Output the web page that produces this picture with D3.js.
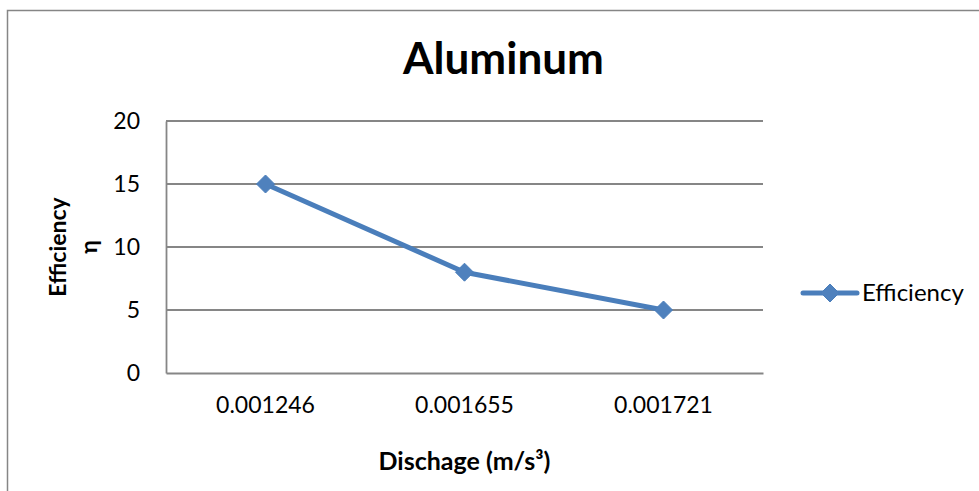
<!DOCTYPE html>
<html><head><meta charset="utf-8">
<script src="https://cdn.jsdelivr.net/npm/d3@7"></script>
<style>
html,body{margin:0;padding:0;background:#fff;}
svg{display:block;font-family:Lato, "Open Sans", sans-serif;}
</style></head>
<body>
<script>
const categories = ["0.001246", "0.001655", "0.001721"];
const efficiency = [15, 8, 5];
const yTicks = [0, 5, 10, 15, 20];
const seriesName = "Efficiency";
const chartTitle = "Aluminum";
const xTitle = "Dischage (m/s³)";
const yTitleLines = ["Efficiency", "η"];

const W = 979, H = 491;
const plot = {left: 166, right: 763, top: 121, bottom: 373};
const gridColor = "#868686";
const lineColor = "#4A7EBB";
const markerColor = "#4F81BD";

const svg = d3.select("body").append("svg").attr("width", W).attr("height", H);

// chart border
svg.append("rect").attr("x", 7.5).attr("y", 10.5).attr("width", W + 20).attr("height", H + 20)
  .attr("fill", "none").attr("stroke", gridColor).attr("stroke-width", 1.5);

const x = d3.scaleBand().domain(categories).range([plot.left, plot.right]).padding(0);
const y = d3.scaleLinear().domain([0, 20]).range([plot.bottom, plot.top]);

// gridlines
svg.append("g").selectAll("line").data(yTicks.filter(d => d > 0)).join("line")
  .attr("x1", plot.left).attr("x2", plot.right)
  .attr("y1", d => y(d)).attr("y2", d => y(d))
  .attr("stroke", gridColor).attr("stroke-width", 1.8);

// y axis
const yAxis = svg.append("g").attr("transform", `translate(${plot.left},0)`)
  .call(d3.axisLeft(y).tickValues(yTicks).tickSize(0).tickPadding(26));
yAxis.select(".domain").attr("stroke", gridColor).attr("stroke-width", 1.8);
yAxis.selectAll("text").attr("font-size", 23).attr("fill", "#000").attr("font-family", "Lato");

// x axis
const xAxis = svg.append("g").attr("transform", `translate(0,${plot.bottom})`)
  .call(d3.axisBottom(x).tickSize(0).tickPadding(24));
xAxis.select(".domain").attr("stroke", gridColor).attr("stroke-width", 1.8);
xAxis.selectAll("text").attr("font-size", 23).attr("fill", "#000").attr("font-family", "Lato");

// line
const pts = categories.map((c, i) => [x(c) + x.bandwidth() / 2, y(efficiency[i])]);
svg.append("path").datum(pts).attr("d", d3.line())
  .attr("fill", "none").attr("stroke", lineColor).attr("stroke-width", 5)
  .attr("stroke-linejoin", "round").attr("stroke-linecap", "round");

const diamond = "M0,-9L9,0L0,9L-9,0Z";
svg.append("g").selectAll("path").data(pts).join("path")
  .attr("d", diamond).attr("transform", d => `translate(${d[0]},${d[1]})`)
  .attr("fill", markerColor).attr("stroke", lineColor).attr("stroke-width", 1);

// title
svg.append("text").attr("x", (plot.left + plot.right) / 2 + 39).attr("y", 74)
  .attr("text-anchor", "middle").attr("font-size", 44).attr("font-weight", "bold")
  .attr("font-family", "Lato").text(chartTitle);

// x title
svg.append("text").attr("x", (plot.left + plot.right) / 2).attr("y", 470)
  .attr("text-anchor", "middle").attr("font-size", 25).attr("font-weight", "bold")
  .attr("font-family", "Lato").text(xTitle);

// y title
const yt = svg.append("text").attr("transform", `translate(66,${(plot.top + plot.bottom) / 2}) rotate(-90)`)
  .attr("text-anchor", "middle").attr("font-size", 23).attr("font-weight", "bold")
  .attr("font-family", "Lato");
yTitleLines.forEach((t, i) => {
  yt.append("tspan").attr("x", 0).attr("dy", i === 0 ? 0 : 31).text(t);
});

// legend
const lg = svg.append("g").attr("transform", "translate(803,293)");
lg.append("line").attr("x1", 0).attr("x2", 54).attr("y1", 0).attr("y2", 0)
  .attr("stroke", lineColor).attr("stroke-width", 5).attr("stroke-linecap", "round");
lg.append("path").attr("d", diamond).attr("transform", "translate(27,0)")
  .attr("fill", markerColor).attr("stroke", lineColor).attr("stroke-width", 1);
lg.append("text").attr("x", 59).attr("y", 0).attr("dy", "0.35em")
  .attr("font-size", 24).attr("font-family", "Lato").text(seriesName);
</script>
</body></html>
